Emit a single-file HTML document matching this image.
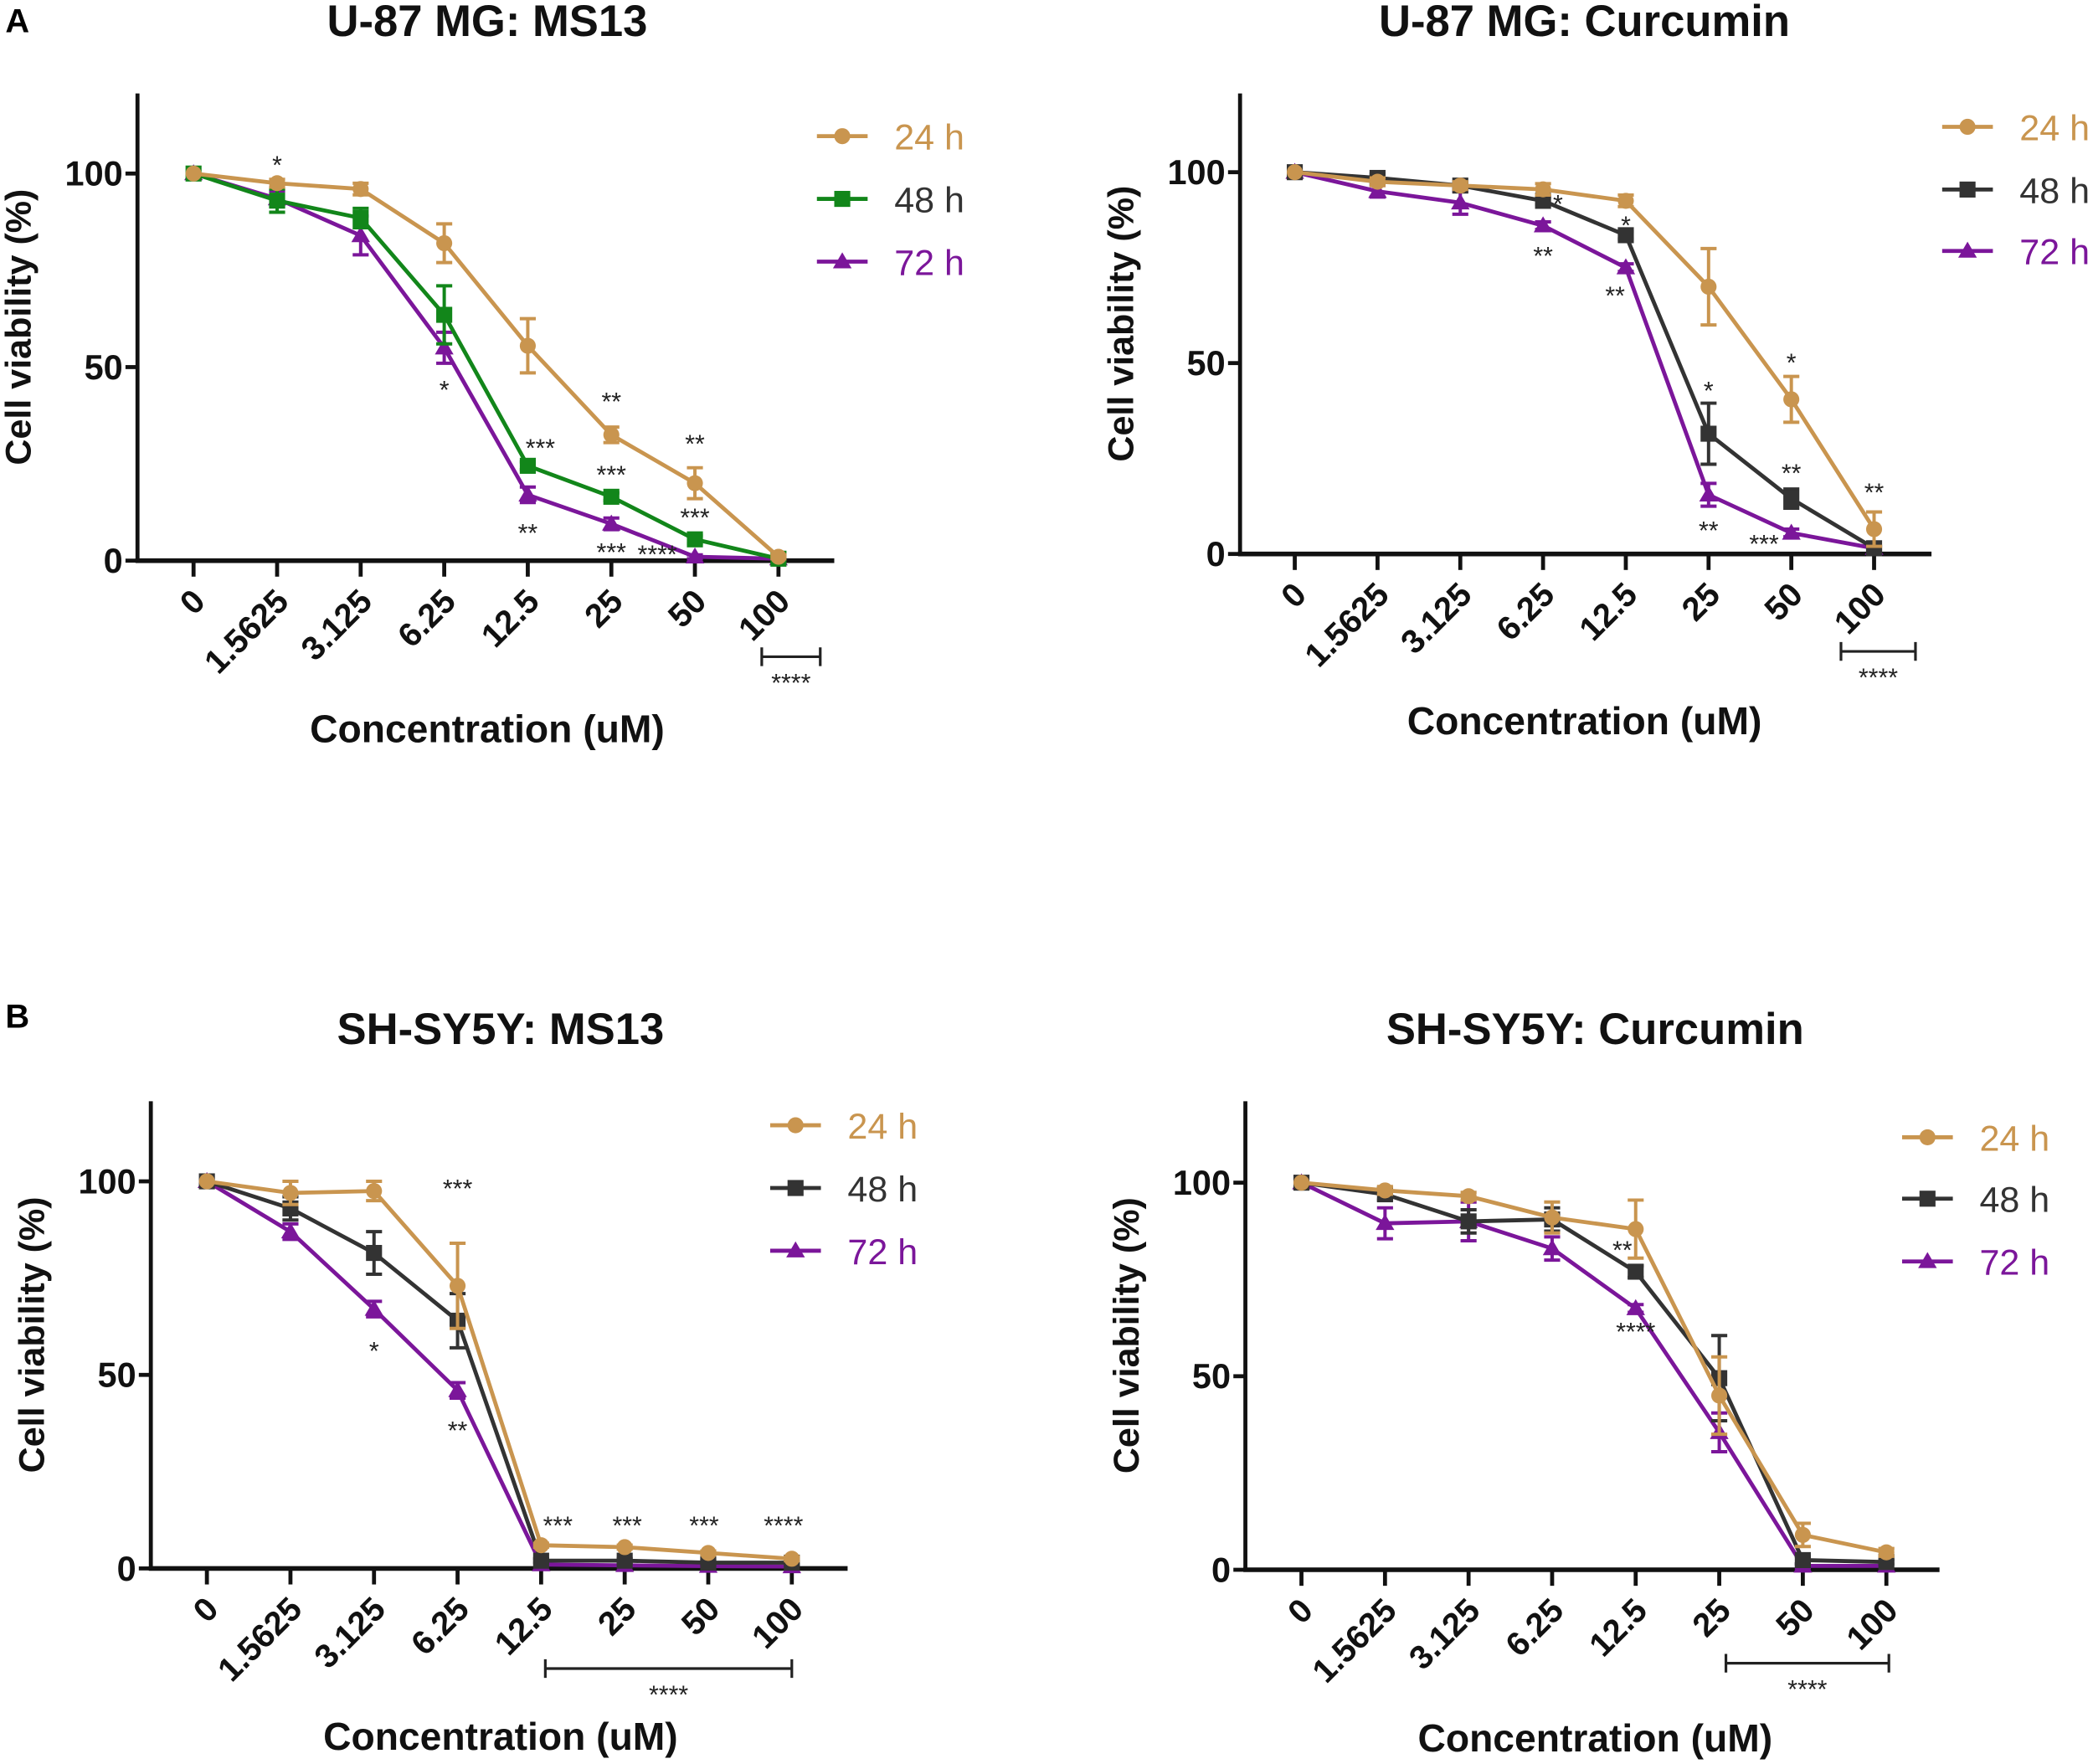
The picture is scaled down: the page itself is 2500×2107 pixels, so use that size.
<!DOCTYPE html>
<html><head><meta charset="utf-8">
<style>
html,body{margin:0;padding:0;background:#fff;}
svg{display:block;}
text{font-family:"Liberation Sans",Arial,sans-serif;}
</style></head>
<body>
<svg id="fig" width="2500" height="2107" viewBox="0 0 1568 1321.5" xmlns="http://www.w3.org/2000/svg">
<text x="4" y="24" font-size="25" font-weight="bold">A</text>
<text x="4" y="770" font-size="25" font-weight="bold">B</text>
</svg>
<script>
const categories = ["0","1.5625","3.125","6.25","12.5","25","50","100"];
const yTicks = [0,50,100];
const seriesLabels = ["24 h","48 h","72 h"];

const a1_24 = [100,97.5,96,82,55.5,32.5,20,1];
const a1_24e = [0,1,1.5,5,7,2,4,0.5];
const a1_48 = [100,93,88.5,63.5,24.5,16.5,5.5,0.5];
const a1_48e = [0,3,2.5,7.5,1,1,1,0];
const a1_72 = [100,93.5,84,55,17,9.5,1,0.5];
const a1_72e = [0,2,5,4,2,1.5,0.5,0];

const a2_24 = [100,97.5,96.5,95.5,92.5,70,40.5,6.5];
const a2_24e = [0,1,1,1.5,1.5,10,6,4.5];
const a2_48 = [100,98.5,96.5,92.5,83.5,31.5,14.5,1.5];
const a2_48e = [0,1,1,1,1,8,2.5,0.5];
const a2_72 = [100,95,92,86,75,15.5,5.5,1.5];
const a2_72e = [0,1.5,3,1,1,3,1,0];

const b1_24 = [100,97,97.5,73,6,5.5,4,2.5];
const b1_24e = [0,3,2.5,11,0.5,0.5,0.5,0.5];
const b1_48 = [100,93,81.5,64,2,2,1.5,1.5];
const b1_48e = [0,3,5.5,7,0.5,0.5,0.5,0.5];
const b1_72 = [100,87,67,46,1,0.8,0.6,0.5];
const b1_72e = [0,2,2,2,0,0,0,0];

const b2_24 = [100,98,96.5,91,88,45,9,4.5];
const b2_24e = [0,1,1,4,7.5,10,3,1];
const b2_48 = [100,97,90,90.5,77,49.5,2.5,2];
const b2_48e = [0,1.5,3,3,1.5,11,1,0.5];
const b2_72 = [100,89.5,90,83,67.5,35.5,1,1];
const b2_72e = [0,4,5,3,1,5,0.5,0];

// annotations: [category index (fractional ok), value, text]
const a1_stars = [[1,103,"*"],[3,45,"*"],[5,42,"**"],[6,31,"**"],[4.15,30,"***"],[5,23,"***"],[6,12,"***"],[4,8,"**"],[5,3,"***"],[5.55,2.5,"****"]];
const a2_stars = [[3.18,92.5,"*"],[4,87,"*"],[3,79,"**"],[3.87,68.5,"**"],[5,43.7,"*"],[6,51,"*"],[6,22,"**"],[7,17,"**"],[5,7,"**"],[5.67,3.5,"***"]];
const b1_stars = [[3,99,"***"],[2,57,"*"],[3,36.5,"**"],[4.2,12,"***"],[5.03,12,"***"],[5.95,12,"***"],[6.9,12,"****"]];
const b2_stars = [[3.84,83.5,"**"],[4,62.4,"****"]];

const C24="#C9954F", C72="#7B169A", CG="#12861A", CK="#333333";
const panels = [
 {id:"a1",title:"U-87 MG: MS13",ax:103,top:70,y0:420,y100:130,x0:145,dx:62.6,end:625,tx:365,ty:27,
  lg:{x:612,ys:[102,149,196]},cols:[C24,CG,C72],
  s:[[a1_24,a1_24e],[a1_48,a1_48e],[a1_72,a1_72e]],stars:a1_stars,br:[6.8,7.5,492],xt:[365,556]},
 {id:"a2",title:"U-87 MG: Curcumin",ax:929,top:70,y0:415,y100:129,x0:970,dx:62,end:1447,tx:1187,ty:27,
  lg:{x:1455,ys:[95,142,188]},cols:[C24,CK,C72],
  s:[[a2_24,a2_24e],[a2_48,a2_48e],[a2_72,a2_72e]],stars:a2_stars,br:[6.6,7.5,488],xt:[1187,550]},
 {id:"b1",title:"SH-SY5Y: MS13",ax:113,top:825,y0:1175,y100:885,x0:155,dx:62.6,end:635,tx:375,ty:782,
  lg:{x:577,ys:[843,890,937]},cols:[C24,CK,C72],
  s:[[b1_24,b1_24e],[b1_48,b1_48e],[b1_72,b1_72e]],stars:b1_stars,br:[4.05,7,1250],xt:[375,1311]},
 {id:"b2",title:"SH-SY5Y: Curcumin",ax:933,top:825,y0:1176,y100:886,x0:975,dx:62.6,end:1453,tx:1195,ty:782,
  lg:{x:1425,ys:[852,898,945]},cols:[C24,CK,C72],
  s:[[b2_24,b2_24e],[b2_48,b2_48e],[b2_72,b2_72e]],stars:b2_stars,br:[5.08,7.03,1246],xt:[1195,1312]}
];
const NS="http://www.w3.org/2000/svg";
const svg=document.getElementById('fig');
function mk(tag,attrs,parent,txt){const e=document.createElementNS(NS,tag);for(const k in attrs)e.setAttribute(k,attrs[k]);if(txt!==undefined)e.textContent=txt;parent.appendChild(e);return e;}
const markers=["circle","square","triangle"];
function marker(g,type,x,y,c){
  let m;
  if(type==="circle") m=mk('circle',{cx:x,cy:y,r:6,fill:c},g);
  else if(type==="square") m=mk('rect',{x:x-6,y:y-6,width:12,height:12,fill:c},g);
  else m=mk('polygon',{points:`${x},${y-7} ${x+7},${y+5} ${x-7},${y+5}`,fill:c},g);
  return m;
}
panels.forEach(p=>{
  const g=mk('g',{},svg);
  
  
  const X=i=>p.x0+i*p.dx;
  const Y=v=>p.y0-(v/100)*(p.y0-p.y100);
  const t=mk('text',{x:p.tx,y:p.ty,'font-size':33,'font-weight':'bold','text-anchor':'middle',fill:'#111'},g,p.title);
  
  
  const ya=mk('line',{x1:p.ax,y1:p.top,x2:p.ax,y2:p.y0+1.5,stroke:'#111','stroke-width':3},g);
  
  
  const xa=mk('line',{x1:p.ax-1.5,y1:p.y0,x2:p.end,y2:p.y0,stroke:'#111','stroke-width':3.5},g);
  
  
  yTicks.forEach(v=>{
    mk('line',{x1:p.ax-9,y1:Y(v),x2:p.ax,y2:Y(v),stroke:'#111','stroke-width':3},g);
    const l=mk('text',{x:p.ax-11,y:Y(v)+9,'font-size':26,'font-weight':'bold','text-anchor':'end',fill:'#111'},g,String(v));
    
    
  });
  categories.forEach((c,i)=>{
    mk('line',{x1:X(i),y1:p.y0,x2:X(i),y2:p.y0+12,stroke:'#111','stroke-width':3},g);
    const ex=X(i)+10, ey=p.y0+32;
    const l=mk('text',{x:ex,y:ey,'font-size':25,'font-weight':'bold','text-anchor':'end',fill:'#111',transform:`rotate(-45 ${ex} ${ey})`},g,c);
    
    
  });
  const yt=mk('text',{x:0,y:0,'font-size':27,'font-weight':'bold','text-anchor':'middle',fill:'#111',transform:`translate(${p.ax-80},${(p.top+p.y0)/2}) rotate(-90)`},g,'Cell viability (%)');
  
  
  const xt=mk('text',{x:p.xt[0],y:p.xt[1],'font-size':29,'font-weight':'bold','text-anchor':'middle',fill:'#111'},g,'Concentration (uM)');
  
  
  [2,1,0].forEach(si=>{
    const [vals,errs]=p.s[si]; const c=p.cols[si];
    const sg=mk('g',{},g);
    
    
    const pl=mk('polyline',{points:vals.map((v,i)=>X(i)+','+Y(v)).join(' '),fill:'none',stroke:c,'stroke-width':3,'stroke-linejoin':'round'},sg);
    
    
    vals.forEach((v,i)=>{
      const e=errs[i];
      if(e>0){
        const eb=mk('path',{d:`M${X(i)},${Y(v+e)}V${Y(v-e)}M${X(i)-6},${Y(v+e)}H${X(i)+6}M${X(i)-6},${Y(v-e)}H${X(i)+6}`,stroke:c,'stroke-width':2.5,fill:'none'},sg);
        
        
      }
      const m=marker(sg,markers[si],X(i),Y(v),c);
      
      
    });
  });
  p.stars.forEach(s=>{
    const st=mk('text',{x:X(s[0]),y:Y(s[1])+9,'font-size':19,'text-anchor':'middle',fill:'#222'},g,s[2]);
    
    
  });
  const bx1=X(p.br[0]),bx2=X(p.br[1]),by=p.br[2];
  const br=mk('path',{d:`M${bx1},${by-7}V${by+7}M${bx1},${by}H${bx2}M${bx2},${by-7}V${by+7}`,stroke:'#222','stroke-width':2,fill:'none'},g);
  
  
  const bs=mk('text',{x:(bx1+bx2)/2,y:by+26,'font-size':19,'text-anchor':'middle',fill:'#222'},g,'****');
  
  
  p.lg.ys.forEach((ly,si)=>{
    const c=p.cols[si];
    const lgI=mk('g',{},g);
    
    
    mk('line',{x1:p.lg.x,y1:ly,x2:p.lg.x+38,y2:ly,stroke:c,'stroke-width':3},lgI);
    marker(lgI,markers[si],p.lg.x+19,ly,c);
    mk('text',{x:p.lg.x+58,y:ly+10,'font-size':27,fill:(c===CG?CK:c)},lgI,seriesLabels[si]);
  });
});
</script>
</body></html>
